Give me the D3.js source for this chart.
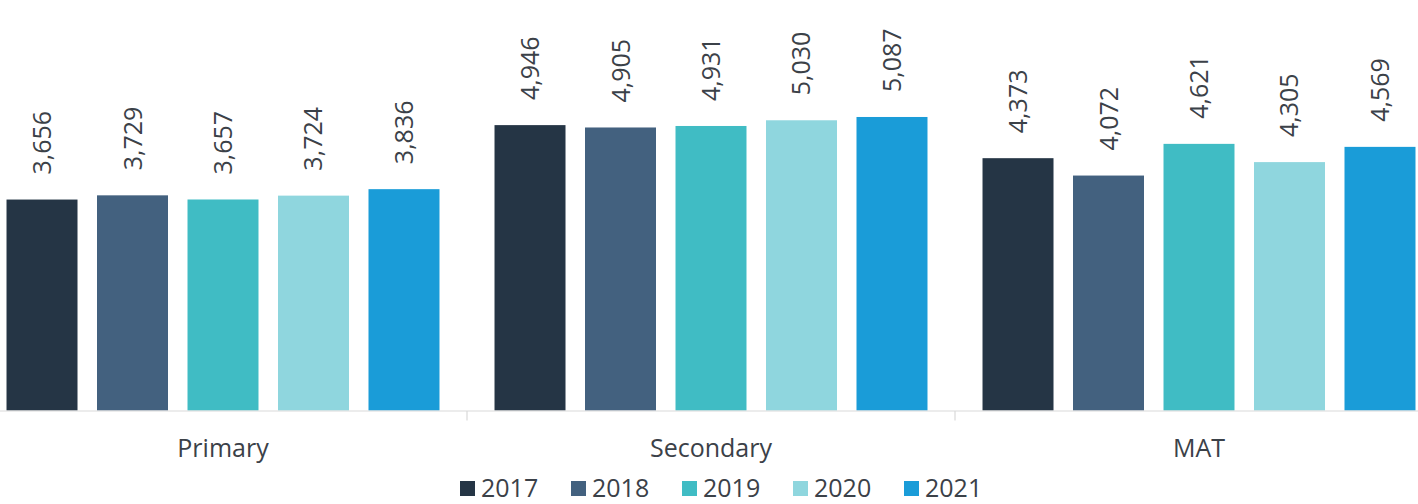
<!DOCTYPE html>
<html>
<head>
<meta charset="utf-8">
<script src="https://cdn.jsdelivr.net/npm/d3@7"></script>
<style>
  html, body { margin: 0; padding: 0; background: #ffffff; }
  svg { display: block; }
  text { font-family: "Open Sans", "Noto Sans", sans-serif; fill: #3b4148; }
</style>
</head>
<body>
<svg id="chart" width="1418" height="504"></svg>
<script>
const categories = ["Primary", "Secondary", "MAT"];
const years = ["2017", "2018", "2019", "2020", "2021"];
const values2017 = [3656, 4946, 4373];
const values2018 = [3729, 4905, 4072];
const values2019 = [3657, 4931, 4621];
const values2020 = [3724, 5030, 4305];
const values2021 = [3836, 5087, 4569];
const colors = ["#253545", "#43617f", "#40bcc4", "#8fd6de", "#1a9cd8"];

const seriesValues = [values2017, values2018, values2019, values2020, values2021];

const svg = d3.select("#chart");
const W = 1418, H = 504;

const x0 = d3.scaleBand().domain(categories).range([-21, 1443]).paddingInner(0).paddingOuter(0);
const x1 = d3.scaleBand().domain(years).range([0, x0.bandwidth()]).paddingInner(0.2155).paddingOuter(0.304);
const y = d3.scaleLinear().domain([0, 6000]).range([410.5, 64.3]);
const color = d3.scaleOrdinal().domain(years).range(colors);
const fmt = d3.format(",");

const data = categories.map((c, i) => ({
  cat: c,
  vals: years.map((yr, j) => ({ year: yr, value: seriesValues[j][i] }))
}));

const groups = svg.append("g").selectAll("g").data(data).join("g")
  .attr("transform", d => `translate(${x0(d.cat)},0)`);

groups.selectAll("rect").data(d => d.vals).join("rect")
  .attr("x", d => x1(d.year))
  .attr("width", x1.bandwidth())
  .attr("y", d => y(d.value))
  .attr("height", d => y(0) - y(d.value))
  .attr("fill", d => color(d.year));

groups.selectAll("text.lbl").data(d => d.vals).join("text")
  .attr("class", "lbl")
  .attr("transform", d => `translate(${x1(d.year) + x1.bandwidth() / 2},${y(d.value) - 25}) rotate(-90)`)
  .attr("dy", "0.36em")
  .attr("text-anchor", "start")
  .style("font-size", "25px")
  .text(d => fmt(d.value));

// category axis
const axisG = svg.append("g").attr("transform", `translate(0,${y(0)})`);
axisG.append("line").attr("x1", 0).attr("x2", W).attr("y1", 0.5).attr("y2", 0.5)
  .attr("stroke", "#d9d9d9").attr("stroke-width", 1.2);
const bounds = categories.map(c => x0(c)).concat([x0(categories[categories.length - 1]) + x0.bandwidth()]);
axisG.selectAll("line.tick").data(bounds).join("line")
  .attr("class", "tick")
  .attr("x1", d => d).attr("x2", d => d)
  .attr("y1", 0.5).attr("y2", 10)
  .attr("stroke", "#d9d9d9").attr("stroke-width", 1.2);
axisG.selectAll("text.cat").data(categories).join("text")
  .attr("class", "cat")
  .attr("x", d => x0(d) + x0.bandwidth() / 2)
  .attr("y", 46)
  .attr("text-anchor", "middle")
  .style("font-size", "25px")
  .text(d => d);

// legend
const legStart = 460, legStep = 111;
const leg = svg.append("g").selectAll("g").data(years).join("g")
  .attr("transform", (d, i) => `translate(${legStart + i * legStep},481)`);
leg.append("rect").attr("width", 15).attr("height", 15).attr("fill", d => color(d));
leg.append("text").attr("x", 21).attr("y", 16).style("font-size", "25px").text(d => d);
</script>
</body>
</html>
